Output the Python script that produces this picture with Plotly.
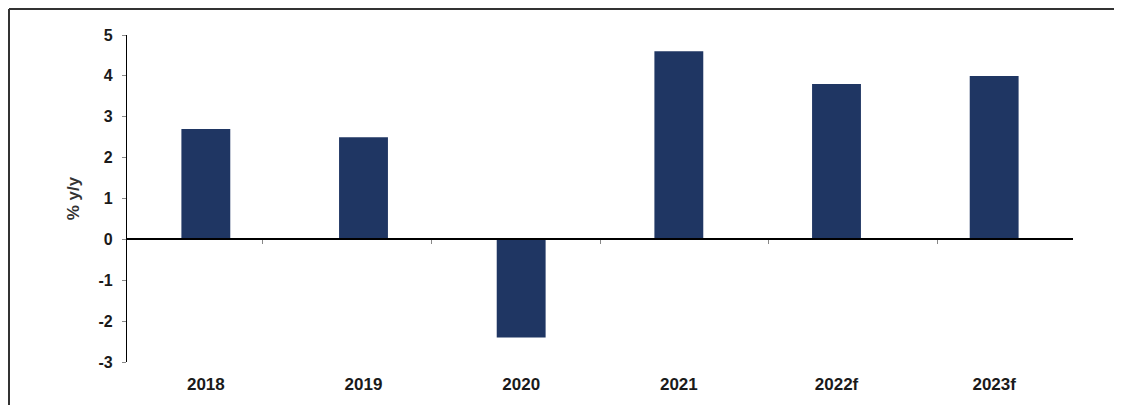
import plotly.graph_objects as go

categories = ["2018", "2019", "2020", "2021", "2022f", "2023f"]
growth = [2.7, 2.5, -2.4, 4.6, 3.8, 4.0]
y_ticks = [-3, -2, -1, 0, 1, 2, 3, 4, 5]
y_tick_text = ["-3", "-2", "-1", "0", "1", "2", "3", "4", "5"]

# page body has an 8px default margin; size the figure so it fits the window
W, H = 1106, 397
ML, MR, MT, MB = 119, 41, 27, 43
y_min, y_max = -3, 5

bar_color = "#1F3663"
font_family = "Liberation Sans Narrow, Arial Narrow, Liberation Sans, Arial, sans-serif"

fig = go.Figure()
fig.add_trace(go.Bar(
    x=categories, y=growth, marker=dict(color=bar_color, line=dict(width=0)),
    xaxis="x", yaxis="y", showlegend=False, hoverinfo="x+y",
))
# invisible trace to carry the zero-line category axis
fig.add_trace(go.Scatter(
    x=categories, y=growth, mode="markers", marker=dict(opacity=0),
    xaxis="x2", yaxis="y", showlegend=False, hoverinfo="skip",
))

pw = W - ML - MR
ph = H - MT - MB
fig.update_layout(
    width=W, height=H,
    margin=dict(l=ML, r=MR, t=MT, b=MB, pad=0),
    paper_bgcolor="white", plot_bgcolor="white",
    bargap=0.69,
    font=dict(family=font_family, color="#1a1a1a"),
    xaxis=dict(
        type="category", showline=False, showgrid=False, zeroline=False,
        ticks="", tickfont=dict(size=17, family=font_family, weight="bold", color="#1a1a1a"),
        ticklabelstandoff=10,
    ),
    xaxis2=dict(
        type="category", overlaying="x", anchor="free",
        position=(0 - y_min) / (y_max - y_min),
        showline=True, linecolor="black", linewidth=1.5,
        ticks="outside", tickson="boundaries", ticklen=4, tickwidth=1, tickcolor="#888",
        showticklabels=False, showgrid=False, zeroline=False,
    ),
    yaxis=dict(
        range=[y_min, y_max], tickvals=y_ticks, ticktext=y_tick_text,
        showline=True, linecolor="black", linewidth=1.2,
        ticks="outside", ticklen=4, tickwidth=1, tickcolor="#888",
        showgrid=False, zeroline=False,
        tickfont=dict(size=16, family=font_family, weight="bold", color="#1a1a1a"),
        ticklabelstandoff=6,
        title=dict(text="% y/y", font=dict(size=17, family=font_family, weight="bold", color="#333"), standoff=14),
    ),
    shapes=[
        dict(type="line", xref="paper", yref="paper",
             x0=-(ML - 1) / pw, x1=(W - ML) / pw,
             y0=(ph + MT - 1) / ph, y1=(ph + MT - 1) / ph,
             line=dict(color="#333", width=2)),
        dict(type="line", xref="paper", yref="paper",
             x0=-(ML - 1) / pw, x1=-(ML - 1) / pw,
             y0=(ph + MT - 1) / ph, y1=-(MB + 5) / ph,
             line=dict(color="#333", width=2)),
    ],
)

fig.write_html("out.html")
